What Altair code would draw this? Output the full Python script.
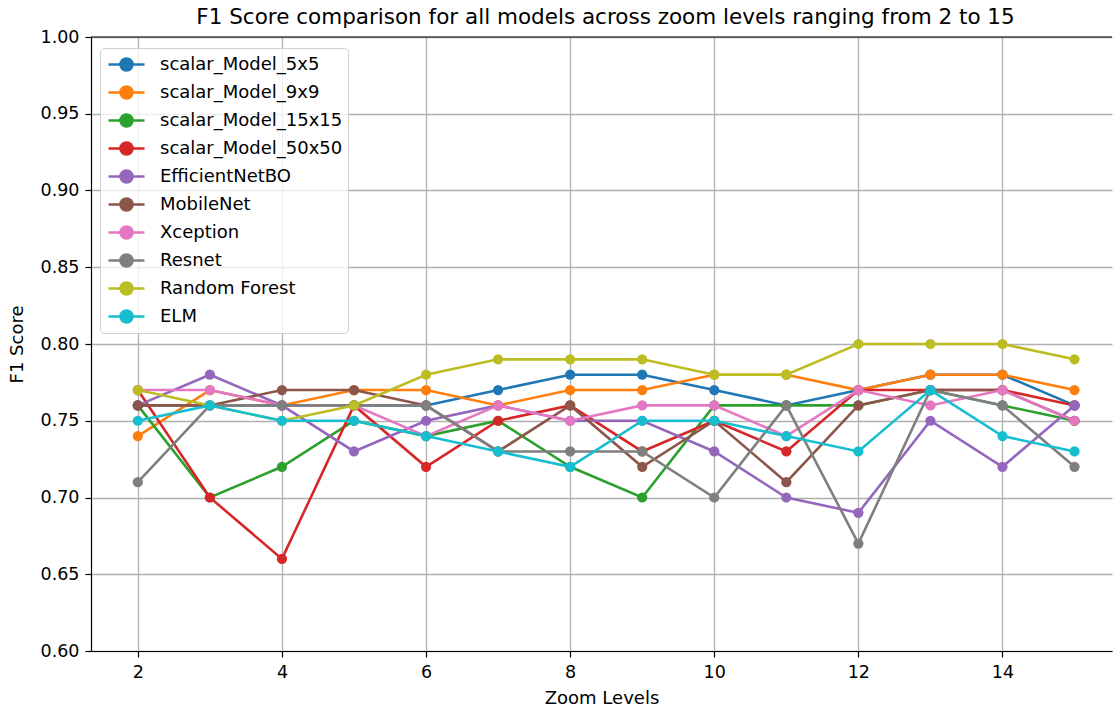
import altair as alt
import pandas as pd

# Zoom levels on the x axis
zoom_levels = [2, 3, 4, 5, 6, 7, 8, 9, 10, 11, 12, 13, 14, 15]

# F1 score per model for each zoom level
model_names = [
    "scalar_Model_5x5", "scalar_Model_9x9", "scalar_Model_15x15", "scalar_Model_50x50",
    "EfficientNetBO", "MobileNet", "Xception", "Resnet", "Random Forest", "ELM",
]
scalar_5x5 = [0.76, 0.76, 0.76, 0.76, 0.76, 0.77, 0.78, 0.78, 0.77, 0.76, 0.77, 0.78, 0.78, 0.76]
scalar_9x9 = [0.74, 0.77, 0.76, 0.77, 0.77, 0.76, 0.77, 0.77, 0.78, 0.78, 0.77, 0.78, 0.78, 0.77]
scalar_15x15 = [0.76, 0.70, 0.72, 0.75, 0.74, 0.75, 0.72, 0.70, 0.76, 0.76, 0.76, 0.77, 0.76, 0.75]
scalar_50x50 = [0.77, 0.70, 0.66, 0.76, 0.72, 0.75, 0.76, 0.73, 0.75, 0.73, 0.77, 0.77, 0.77, 0.76]
efficientnet = [0.76, 0.78, 0.76, 0.73, 0.75, 0.76, 0.75, 0.75, 0.73, 0.70, 0.69, 0.75, 0.72, 0.76]
mobilenet = [0.76, 0.76, 0.77, 0.77, 0.76, 0.73, 0.76, 0.72, 0.75, 0.71, 0.76, 0.77, 0.77, 0.75]
xception = [0.77, 0.77, 0.76, 0.76, 0.74, 0.76, 0.75, 0.76, 0.76, 0.74, 0.77, 0.76, 0.77, 0.75]
resnet = [0.71, 0.76, 0.76, 0.76, 0.76, 0.73, 0.73, 0.73, 0.70, 0.76, 0.67, 0.77, 0.76, 0.72]
random_forest = [0.77, 0.76, 0.75, 0.76, 0.78, 0.79, 0.79, 0.79, 0.78, 0.78, 0.80, 0.80, 0.80, 0.79]
elm = [0.75, 0.76, 0.75, 0.75, 0.74, 0.73, 0.72, 0.75, 0.75, 0.74, 0.73, 0.77, 0.74, 0.73]

series = [scalar_5x5, scalar_9x9, scalar_15x15, scalar_50x50, efficientnet,
          mobilenet, xception, resnet, random_forest, elm]
palette = ["#1f77b4", "#ff7f0e", "#2ca02c", "#d62728", "#9467bd",
           "#8c564b", "#e377c2", "#7f7f7f", "#bcbd22", "#17becf"]

rows = []
for name, values in zip(model_names, series):
    for z, v in zip(zoom_levels, values):
        rows.append({"Model": name, "Zoom": z, "F1": v})
df = pd.DataFrame(rows)

FONT = "DejaVu Sans"

x_enc = alt.X("Zoom:Q", scale=alt.Scale(domain=[1.35, 15.52], nice=False, zero=False),
              axis=alt.Axis(values=[2, 4, 6, 8, 10, 12, 14], title="Zoom Levels"))
y_enc = alt.Y("F1:Q", scale=alt.Scale(domain=[0.6, 1.0], nice=False, zero=False),
              axis=alt.Axis(values=[0.6, 0.65, 0.7, 0.75, 0.8, 0.85, 0.9, 0.95, 1.0],
                            format=".2f", title="F1 Score"))
color_enc = alt.Color(
    "Model:N",
    scale=alt.Scale(domain=model_names, range=palette),
    sort=model_names,
    legend=alt.Legend(
        title=None, orient="none", legendX=9, legendY=11,
        symbolType="M-0.8,0L2.8,0M0.4,0A0.6,0.6,0,1,1,1.6,0A0.6,0.6,0,1,1,0.4,0Z",
        symbolSize=400, symbolStrokeWidth=2.6,
        labelFontSize=18, labelFont=FONT, labelOffset=32, labelColor="#000000",
        labelLimit=400, rowPadding=5, padding=5,
        fillColor="rgba(255,255,255,0.8)", strokeColor="#d0d0d0", cornerRadius=4,
    ),
)

layers = []
for name in model_names:
    base = alt.Chart(df).transform_filter(alt.datum.Model == name)
    layers.append(base.mark_line(strokeWidth=2.6).encode(x=x_enc, y=y_enc, color=color_enc))
    layers.append(base.mark_point(filled=True, size=105, opacity=1).encode(
        x=x_enc, y=y_enc, color=color_enc))

# top frame line
top_border = alt.Chart(pd.DataFrame({"F1": [1.0]})).mark_rule(
    color="#000000", strokeWidth=1.2).encode(y=alt.Y("F1:Q"))

chart = alt.layer(*layers, top_border).properties(
    width=1021, height=614,
    autosize=alt.AutoSizeParams(type="none"),
    padding={"left": 91, "top": 37, "right": 1, "bottom": 60},
    title=alt.TitleParams(
        "F1 Score comparison for all models across zoom levels ranging from 2 to 15",
        font=FONT, fontSize=21.5, fontWeight="normal", color="#000000",
        anchor="middle", offset=0, dx=4,
    ),
).configure_view(stroke=None).configure_axis(
    labelFont=FONT, labelFontSize=17.5, labelColor="#000000",
    titleFont=FONT, titleFontSize=18, titleColor="#000000", titleFontWeight="normal",
    domainColor="#000000", domainWidth=1.2, tickColor="#000000", tickSize=6, tickWidth=1.2,
    labelPadding=6, gridColor="#b0b0b0", gridWidth=1.3,
).configure_axisX(titlePadding=9).configure_axisY(titlePadding=14)

chart.save("out.html", embed_options={"renderer": "svg", "actions": False})
